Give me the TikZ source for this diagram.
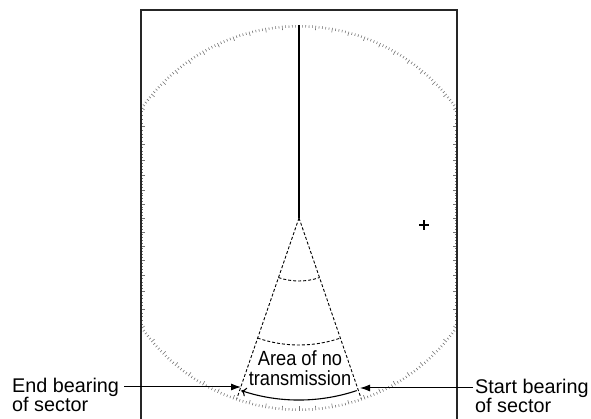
\documentclass[tikz,border=0pt]{standalone}
\usepackage{fontspec}
\setmainfont{Liberation Sans}
\usetikzlibrary{arrows.meta, positioning}

\tikzset{
  scaletick/.style={black!55, line width=0.6pt},
  sectorline/.style={black, line width=0.9pt, dash pattern=on 3pt off 2pt},
  bearlabel/.style={font=\fontsize{19.8}{23}\selectfont, inner sep=2pt, anchor=west},
}

\begin{document}
\begin{tikzpicture}[x=1pt,y=1pt] % 1pt 对应一个像素
	\useasboundingbox (0,0) rectangle (591,419);
	\coordinate (C) at (299,201); % 本船位置
	
	% 方位刻度圈（裁剪到屏幕内）
	\begin{scope}
		\clip (141,0) rectangle (457,409);
		\foreach \a in {0,...,359}{
			\pgfmathsetmacro\len{ifthenelse(mod(\a,5)==0,4.5,2.5)}
			\draw[scaletick] (C) ++(\a:193) -- ++(\a:-\len);
		}
	\end{scope}
	% 屏幕边缘上的刻度
	\foreach \a in {146,...,214}{
		\pgfmathsetmacro\len{ifthenelse(mod(\a,5)==0,4,2)}
		\draw[scaletick] (141,{201-158*tan(\a)}) -- ++(\len,0);
	}
	\foreach \a in {-34,...,34}{
		\pgfmathsetmacro\len{ifthenelse(mod(\a,5)==0,4,2)}
		\draw[scaletick] (457,{201+158*tan(\a)}) -- ++(-\len,0);
	}
	
	% 屏幕边框
	\draw[black!85, line width=1.2pt] (141,0) -- (141,409) -- (457,409) -- (457,0);
	
	% 船首线
	\draw[black, line width=1.1pt] (C) -- ++(90:193);
	
	% 停止发射扇区
	\draw[sectorline] (C) -- ++(251:191);
	\draw[sectorline] (C) -- ++(289:191);
	\draw[sectorline] (C) ++(251:63) arc (251:289:63);
	\draw[sectorline] (C) ++(251:127) arc (251:289:127);
	\draw[black, line width=1.1pt, -{To[length=5pt,width=9pt]}] (C) ++(288.5:182) arc (288.5:251.5:182);
	
	\node (area) at (300,51) [align=center, xscale=0.89, inner sep=0pt,
		font=\fontsize{20.5}{20}\selectfont] {Area of no\\transmission};
	
	% 本船以外的标记
	\draw[black, line width=1.4pt] (419,194) -- (429,194) (424,189) -- (424,199);
	
	% 说明文字
	\node (endlbl) at (10,32) [bearlabel] {End bearing};
	\node (endsub) [bearlabel, below=0pt of endlbl.south west, anchor=north west, yshift=3pt] {of sector};
	\node (startlbl) at (473,31) [bearlabel] {Start bearing};
	\node (startsub) [bearlabel, below=0pt of startlbl.south west, anchor=north west, yshift=3pt] {of sector};
	
	\coordinate (endtip) at (241,32);
	\coordinate (starttip) at (360,31);
	\draw[black, line width=1pt, -{Latex[length=10pt,width=7pt]}] (endlbl.east) ++(3pt,0) -- (endtip);
	\draw[black, line width=1pt, -{Latex[length=10pt,width=7pt]}] (startlbl.west) -- (starttip);
\end{tikzpicture}
\end{document}
